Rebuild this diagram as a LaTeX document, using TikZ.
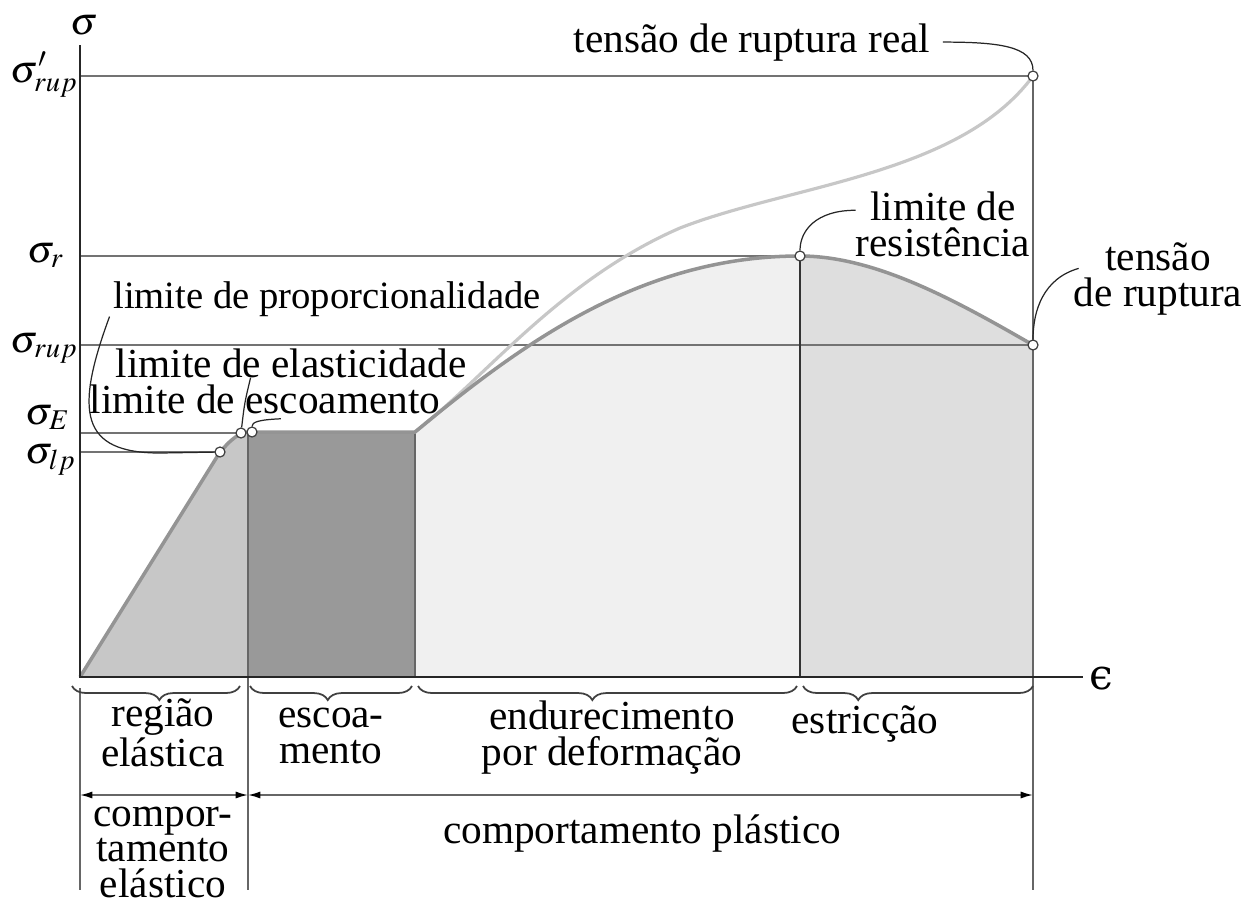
\documentclass[tikz,border=0pt]{standalone}
\usepackage{mathptmx}
\usepackage{fontspec}
\setmainfont{Liberation Serif}
\newfontfamily\dejavu{DejaVu Serif}
\usetikzlibrary{positioning,calc,arrows.meta,decorations.pathreplacing}

\tikzset{
  pt/.style={circle,draw=black!75,fill=white,line width=0.7pt,inner sep=0pt,minimum size=5.7pt},
  refline/.style={draw=black!55,line width=1.2pt},
  divline/.style={draw=black!60,line width=0.9pt},
  leader/.style={draw=black!85,line width=0.7pt},
  lbl/.style={font=\fontsize{23.5}{20}\selectfont,inner sep=0pt,align=center,anchor=base},
  slbl/.style={font=\fontsize{22}{24}\selectfont,inner sep=0pt,anchor=base east},
  axis/.style={draw=black!85,line width=1.5pt},
  engcurve/.style={draw=black!42,line width=2pt},
  truecurve/.style={draw=black!22,line width=1.8pt},
  brc/.style={decorate,draw=black!75,line width=1pt},
  dim/.style={draw=black!60,line width=0.9pt,
    {Latex[length=7pt,width=4pt,color=black]}-{Latex[length=7pt,width=4pt,color=black]}}
}

\begin{document}
\begin{tikzpicture}[x=0.02cm,y=-0.02cm]
\useasboundingbox (0,0) rectangle (1258,904);

  \def\yb{686};
  \def\ya{795};

%axis and points
\coordinate (o) at (80,677);
\coordinate (ytop) at (80,45);
\coordinate (xend) at (1083,677);
\foreach \name/\x/\y in {lp/220/452,el/241/433,esc/252/432,res/800/256,rup/1033/345,rupr/1033/76}{
  \coordinate (\name) at (\x,\y);
}

%regions
\fill[black!22] (o) -- (lp) .. controls (230,441) .. (el) .. controls (244,432) .. (248,432) -- (248,677) -- cycle;
\fill[black!40] (248,432) rectangle (415,677);
\fill[black!6] (415,677) -- (415,432) .. controls (520,345) and (640,256) .. (res) -- (res |- o) -- cycle;
\fill[black!13] (res |- o) -- (res) .. controls (875,256) and (955,300) .. (rup) -- (rup |- o) -- cycle;

%stress levels
\foreach \name/\y/\lab/\xe/\yl in {rupr/76/{\sigma'_{rup}}/78/82,res/256/{\sigma_r}/64/262,rup/345/{\sigma_{rup}}/78/352,el/433/{\sigma_E}/70/424,lp/452/{\sigma_{lp}}/76/463}{
  \coordinate (ax\name) at (80,\y);
  \draw[refline] (ax\name) -- (\name);
  \node[slbl] (s\name) at (\xe,\yl) {$\lab$};
}

%division lines
\draw[divline] (248,432) -- (248,890);
\draw[divline] (415,432) -- (415,677);
\draw[black!80,line width=0.8pt] (res) -- (res |- o);
\draw[divline] (rupr) -- (1033,890);
\draw[divline] (80,688) -- (80,890);

%curves
\draw[truecurve] (415,432) .. controls (485,378) and (560,280) .. (680,228) .. controls (790,185) and (960,175) .. (rupr);
\draw[engcurve] (o) -- (lp) .. controls (230,441) .. (el) .. controls (244,432) .. (250,432) -- (415,432)
   .. controls (520,345) and (640,256) .. (res) .. controls (875,256) and (955,300) .. (rup);

\draw[axis] (ytop) -- (o) -- (xend);
\node[anchor=base,inner sep=0pt] (sig) at (84,34) {\fontsize{22}{24}\selectfont$\sigma$};
\node[anchor=west,inner sep=0pt] (eps) at (1089,679) {\fontsize{24}{26}\selectfont\dejavu ϵ};

\foreach \name in {lp,el,esc,res,rup,rupr}{
  \node[pt] (p\name) at (\name) {};
}

%braces
\foreach \a/\b/\asp in {72/240/0.52,250/412/0.48,418/797/0.46,803/1033/0.24}{
  \draw[brc,decoration={brace,mirror,amplitude=8pt,aspect=\asp}] (\a,\yb) -- (\b,\yb);
}

%behaviour arrows
\coordinate (d0) at (80,\ya);
\coordinate (d1) at (248,\ya);
\coordinate (d2) at (1033,\ya);
\draw[dim] (d0) -- (d1);
\draw[dim] (d1) -- (d2);

%labels (base = last line)
\node[lbl] (reg) at (163,766) {região\\elástica};
\node[lbl] (escoa) at (331,763) {escoa-\\mento};
\node[lbl] (endur) at (612,765) {endurecimento\\por deformação};
\node[lbl] (estr) at (865,733) {estricção};
\node[lbl] (celas) at (163,897) {compor-\\tamento\\elástico};
\node[lbl] (cplas) at (642,843) {comportamento plástico};

\node[lbl] (treal) at (752,52) {tensão de ruptura real};
\node[lbl] (lres) at (943,256) {limite de\\resistência};
\node[lbl] (trup) at (1158,306) {tensão\\de ruptura};
\node[lbl,font=\fontsize{22}{20}\selectfont] (lprop) at (327,308) {limite de proporcionalidade};
\node[lbl] (lelas) at (291,377) {limite de elasticidade};
\node[lbl] (lesc) at (265,413) {limite de escoamento};

%leaders
\draw[leader] ([xshift=7pt]treal.east) .. controls +(55,0) and +(0,-30) .. (prupr);
\draw[leader] ([yshift=8pt]lres.west) .. controls +(-40,0) and +(0,-25) .. (pres);
\draw[leader] ([xshift=3pt,yshift=6pt]trup.west) .. controls +(-35,10) and +(0,-35) .. (prup);
\draw[leader] ([xshift=-2pt]lprop.south west) .. controls +(-35,95) and +(-80,0) .. (160,453) -- (plp);
\draw[leader] ($(lelas.south west)!0.385!(lelas.south east)$) .. controls +(-6,25) .. (pel);
\draw[leader] ($(lesc.south west)!0.545!(lesc.south east)+(0,5)$) .. controls +(-22,1) and +(0,-10) .. (pesc);

\end{tikzpicture}
\end{document}
